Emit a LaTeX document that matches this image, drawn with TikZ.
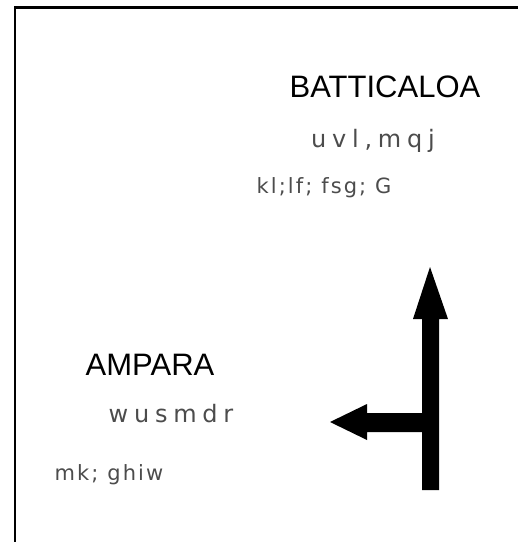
\documentclass[tikz,border=0pt]{standalone}
\usepackage{fontspec}
\setmainfont{Liberation Sans}
\newfontfamily\thinfont{DejaVu Sans}[LetterSpace=10]
\newfontfamily\thinwide{DejaVu Sans}[LetterSpace=24]
\usepackage{tikz}

\begin{document}
\begin{tikzpicture}[x=1pt,y=-1pt,
    city/.style={anchor=base,inner sep=0pt,font=\fontsize{31}{31}\selectfont},
    sinhala/.style={anchor=base,inner sep=0pt,text=black!70,font=\thinwide\fontsize{24}{24}\selectfont},
    tamil/.style={anchor=base,inner sep=0pt,text=black!70,font=\thinfont\fontsize{21}{21}\selectfont}]
          \useasboundingbox (0,0) rectangle (518,542);
          \draw[line width=2.5pt] (15,542) -- (15,7.5) -- (518,7.5);

          % Batticaloa (top right)
          \node[city] (batti) at (385,97) {BATTICALOA};
          \node[sinhala] (battiSi) at (373,147) {uvl,mqj};
          \node[tamil] (battiTa) at (324,193) {kl;lf; fsg; G};

          % Ampara (bottom left)
          \node[city] (ampara) at (150,375) {AMPARA};
          \node[sinhala] (amparaSi) at (171,422) {wusmdr};
          \node[tamil] (amparaTa) at (109,480) {mk; ghiw};

          % direction arrows
          \fill (422,490) -- (422,319) -- (413,319) -- (430,267) -- (448,319)
                -- (439,319) -- (439,490) -- cycle;
          \fill (422,413) -- (367,413) -- (367,404) -- (330,422) -- (367,440)
                -- (367,432) -- (422,432) -- cycle;
        \end{tikzpicture}
\end{document}
